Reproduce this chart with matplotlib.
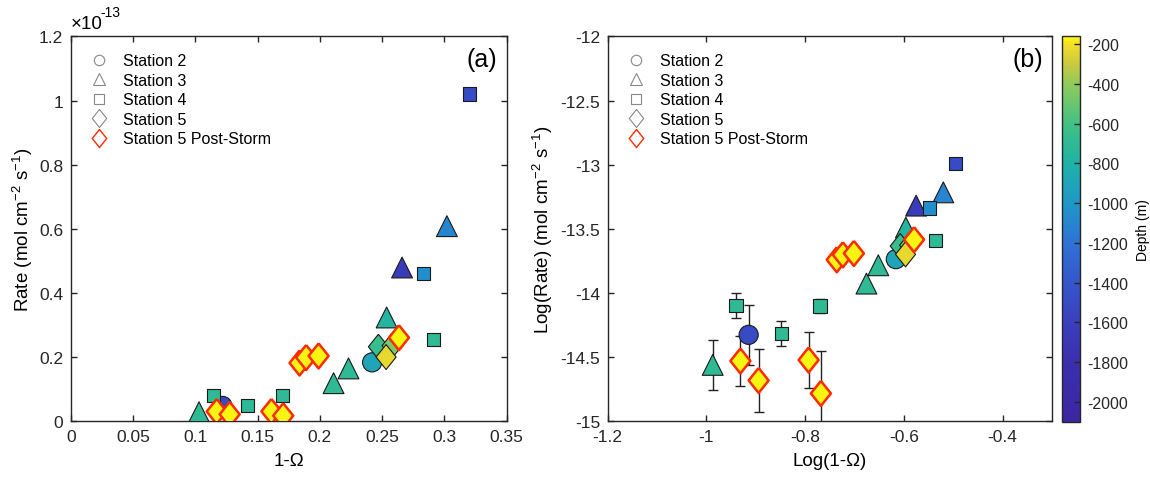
import numpy as np
import matplotlib
matplotlib.use("Agg")
import matplotlib.pyplot as plt
from matplotlib.colors import LinearSegmentedColormap
from matplotlib.lines import Line2D
from matplotlib.ticker import FuncFormatter, MultipleLocator

plt.rcParams["font.family"] = ["Liberation Sans", "DejaVu Sans"]
plt.rcParams["axes.unicode_minus"] = False
plt.rcParams["mathtext.fontset"] = "custom"
plt.rcParams["mathtext.rm"] = "Liberation Sans"
plt.rcParams["mathtext.it"] = "Liberation Sans"

# --- data (1-Omega, rate in 1e-13 mol cm-2 s-1, depth in m, log error) ---
st2_x = [0.1218, 0.242]
st2_y = [0.047, 0.183]
st2_depth = [-1500, -900]
st2_err = [0.235, 0]

st3_x = [0.1030, 0.211, 0.223, 0.2536, 0.266, 0.302]
st3_y = [0.0274, 0.118, 0.164, 0.323, 0.479, 0.608]
st3_depth = [-700, -700, -700, -780, -1650, -1100]
st3_err = [0.195, 0, 0, 0, 0, 0]

st4_x = [0.1148, 0.1419, 0.1698, 0.283, 0.291, 0.320]
st4_y = [0.0798, 0.0483, 0.0789, 0.460, 0.255, 1.02]
st4_depth = [-700, -700, -700, -1050, -700, -1500]
st4_err = [0.095, 0.1, 0.055, 0, 0, 0]

st5_x = [0.247, 0.258, 0.2532]
st5_y = [0.2317, 0.235, 0.1995]
st5_depth = [-650, -450, -230]
st5_err = [0, 0, 0]

ps_x = [0.1172, 0.1276, 0.1611, 0.1706, 0.1837, 0.189, 0.199, 0.2635]
ps_y = [0.0294, 0.0207, 0.0299, 0.0164, 0.181, 0.198, 0.203, 0.26]
ps_depth = [-170, -170, -170, -170, -170, -170, -170, -170]
ps_err = [0.195, 0.245, 0.22, 0.33, 0, 0, 0, 0]

# parula-like colormap, anchored on depth
vmin, vmax = -2100, -160
cmap_depths = [-2100, -1800, -1600, -1400, -1200, -1000, -800, -600, -400, -300, -200, -160]
cmap_colors = ["#3d26a0", "#3b2fae", "#3a3fbd", "#3556cc", "#2f72d6", "#1f98c8",
               "#1fb2a6", "#40c184", "#8fcb5c", "#c8c940", "#f4de2a", "#f9fb0e"]
parula = LinearSegmentedColormap.from_list(
    "parula_like",
    [((d - vmin) / (vmax - vmin), c) for d, c in zip(cmap_depths, cmap_colors)])

diamond = [(0, 1), (0.8, 0), (0, -1), (-0.8, 0), (0, 1)]

series = [
    (st2_x, st2_y, st2_depth, st2_err, "o", 190, "#1a1a1a", 0.8),
    (st3_x, st3_y, st3_depth, st3_err, "^", 225, "#1a1a1a", 0.8),
    (st4_x, st4_y, st4_depth, st4_err, "s", 92, "#1a1a1a", 0.8),
    (st5_x, st5_y, st5_depth, st5_err, diamond, 324, "#1a1a1a", 0.8),
    (ps_x, ps_y, ps_depth, ps_err, diamond, 324, "#ff2a00", 1.8),
]

fig = plt.figure(figsize=(11.5, 4.81), dpi=100)
ax1 = fig.add_axes([0.0615, 0.1227, 0.3791, 0.7994])
ax2 = fig.add_axes([0.5284, 0.1227, 0.3863, 0.7994])
cax = fig.add_axes([0.9232, 0.1212, 0.0159, 0.8012])

fmt = FuncFormatter(lambda v, p: "%g" % round(v, 6))

for ax in (ax1, ax2):
    for s in ax.spines.values():
        s.set_color("#262626")
        s.set_linewidth(1.0)
    ax.tick_params(direction="in", length=4, width=1.0, top=True, right=True,
                   labelsize=12.5, pad=5.5, colors="#262626")
    ax.xaxis.set_major_formatter(fmt)
    ax.yaxis.set_major_formatter(fmt)

z = 3
for xs, ys, ds, errs, mk, size, ec, lw in series:
    xs = np.array(xs)
    ys = np.array(ys)
    ax1.scatter(xs, ys, c=ds, cmap=parula, vmin=vmin, vmax=vmax, marker=mk,
                s=size, edgecolors=ec, linewidths=lw, zorder=z)
    lx = np.log10(xs)
    ly = np.log10(ys * 1e-13)
    errs = np.array(errs)
    m = errs > 0
    if m.any():
        ax2.errorbar(lx[m], ly[m], yerr=errs[m], fmt="none", ecolor="#222222",
                     elinewidth=1.0, capsize=3.5, capthick=1.0, zorder=2)
    sc = ax2.scatter(lx, ly, c=ds, cmap=parula, vmin=vmin, vmax=vmax, marker=mk,
                     s=size, edgecolors=ec, linewidths=lw, zorder=z)
    z += 1

ax1.set_xlim(0, 0.35)
ax1.set_ylim(0, 1.2)
ax1.xaxis.set_major_locator(MultipleLocator(0.05))
ax1.yaxis.set_major_locator(MultipleLocator(0.2))
ax1.set_xlabel("1-\u03a9", fontsize=13.5, labelpad=6)
ax1.set_ylabel("Rate (mol cm$^{-2}$ s$^{-1}$)", fontsize=13.5, labelpad=3)
ax1.text(0.0, 1.012, "\u00d710", transform=ax1.transAxes, fontsize=13.5,
         ha="left", va="bottom")
ax1.text(0.068, 1.045, "-13", transform=ax1.transAxes, fontsize=10,
         ha="left", va="bottom")
ax1.text(0.978, 0.9415, "(a)", transform=ax1.transAxes, fontsize=18,
         ha="right", va="center")

ax2.set_xlim(-1.2, -0.3)
ax2.set_ylim(-15, -12)
ax2.xaxis.set_major_locator(MultipleLocator(0.2))
ax2.yaxis.set_major_locator(MultipleLocator(0.5))
ax2.set_xlabel("Log(1-\u03a9)", fontsize=13.5, labelpad=6)
ax2.set_ylabel("Log(Rate) (mol cm$^{-2}$ s$^{-1}$)", fontsize=13.5, labelpad=4)
ax2.text(0.98, 0.9415, "(b)", transform=ax2.transAxes, fontsize=18,
         ha="right", va="center")

# legends
handles = [
    Line2D([], [], ls="none", marker="o", ms=7.5, mfc="none", mec="#888888", mew=0.8),
    Line2D([], [], ls="none", marker="^", ms=8.5, mfc="none", mec="#888888", mew=0.8),
    Line2D([], [], ls="none", marker="s", ms=7, mfc="none", mec="#888888", mew=0.8),
    Line2D([], [], ls="none", marker=diamond, ms=13, mfc="none", mec="#888888", mew=0.8),
    Line2D([], [], ls="none", marker=diamond, ms=13, mfc="none", mec="#ff2a00", mew=1.0),
]
labels = ["Station 2", "Station 3", "Station 4", "Station 5", "Station 5 Post-Storm"]
for ax in (ax1, ax2):
    ax.legend(handles, labels, loc="upper left", frameon=False, fontsize=11.5,
              handlelength=1.2, handletextpad=0.9, labelspacing=0.28,
              borderaxespad=0.3, bbox_to_anchor=(0.018, 0.985))

cb = fig.colorbar(sc, cax=cax)
cb.set_ticks(np.arange(-2000, -199, 200))
cb.ax.yaxis.set_major_formatter(FuncFormatter(lambda v, p: "%d" % v))
cb.ax.tick_params(direction="in", length=4, width=1.0, labelsize=11.5, pad=5,
                  colors="#262626")
cb.outline.set_edgecolor("#262626")
cb.outline.set_linewidth(1.0)
cb.set_label("Depth (m)", fontsize=10, labelpad=6)

fig.savefig("out.png", dpi=100)
